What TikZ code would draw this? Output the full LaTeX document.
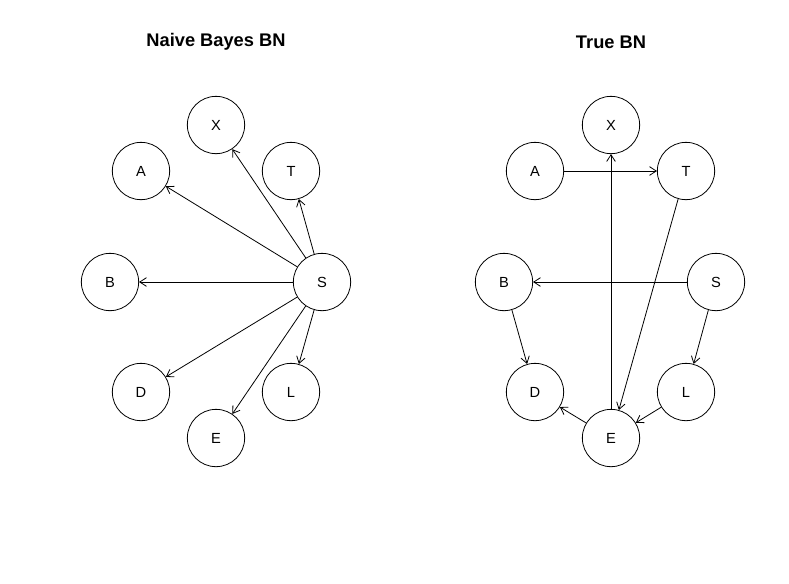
\documentclass[tikz,border=0pt]{standalone}
\usepackage{fontspec}
\setmainfont{Liberation Sans}
\usetikzlibrary{arrows.meta}

\begin{document}
\begin{tikzpicture}[x=0.75pt,y=-0.75pt,
    var/.style={draw,circle,minimum size=43pt,inner sep=0pt,line width=0.6pt,font=\fontsize{11}{13}\selectfont},
    edge/.style={line width=0.6pt,-{Straight Barb[length=5pt,width=6.5pt,line width=0.6pt]}},
    title/.style={font=\fontsize{13.7}{16}\selectfont\bfseries}]
    \useasboundingbox (0,0) rectangle (789,583);
    % naive bayes
    \node[title] (nbtitle) at (216,42) {Naive Bayes BN};
    \node[var] (nX) at (216,125) {X};
    \node[var] (nA) at (141,171) {A};
    \node[var] (nT) at (291,171) {T};
    \node[var] (nB) at (110,282) {B};
    \node[var] (nS) at (322,282) {S};
    \node[var] (nD) at (141,392) {D};
    \node[var] (nL) at (291,392) {L};
    \node[var] (nE) at (216,438) {E};
    \draw[edge] (nS) -- (nX);
    \draw[edge] (nS) -- (nA);
    \draw[edge] (nS) -- (nT);
    \draw[edge] (nS) -- (nB);
    \draw[edge] (nS) -- (nD);
    \draw[edge] (nS) -- (nL);
    \draw[edge] (nS) -- (nE);
    % true network
    \node[title] (tbtitle) at (611,42) {True BN};
    \node[var] (tX) at (611,125) {X};
    \node[var] (tA) at (535,171) {A};
    \node[var] (tT) at (686,171) {T};
    \node[var] (tB) at (504,282) {B};
    \node[var] (tS) at (716,282) {S};
    \node[var] (tD) at (535,392) {D};
    \node[var] (tL) at (686,392) {L};
    \node[var] (tE) at (611,438) {E};
    \draw[edge] (tA) -- (tT);
    \draw[edge] (tE) -- (tX);
    \draw[edge] (tT) -- (tE);
    \draw[edge] (tS) -- (tB);
    \draw[edge] (tB) -- (tD);
    \draw[edge] (tS) -- (tL);
    \draw[edge] (tE) -- (tD);
    \draw[edge] (tL) -- (tE);
\end{tikzpicture}
\end{document}
